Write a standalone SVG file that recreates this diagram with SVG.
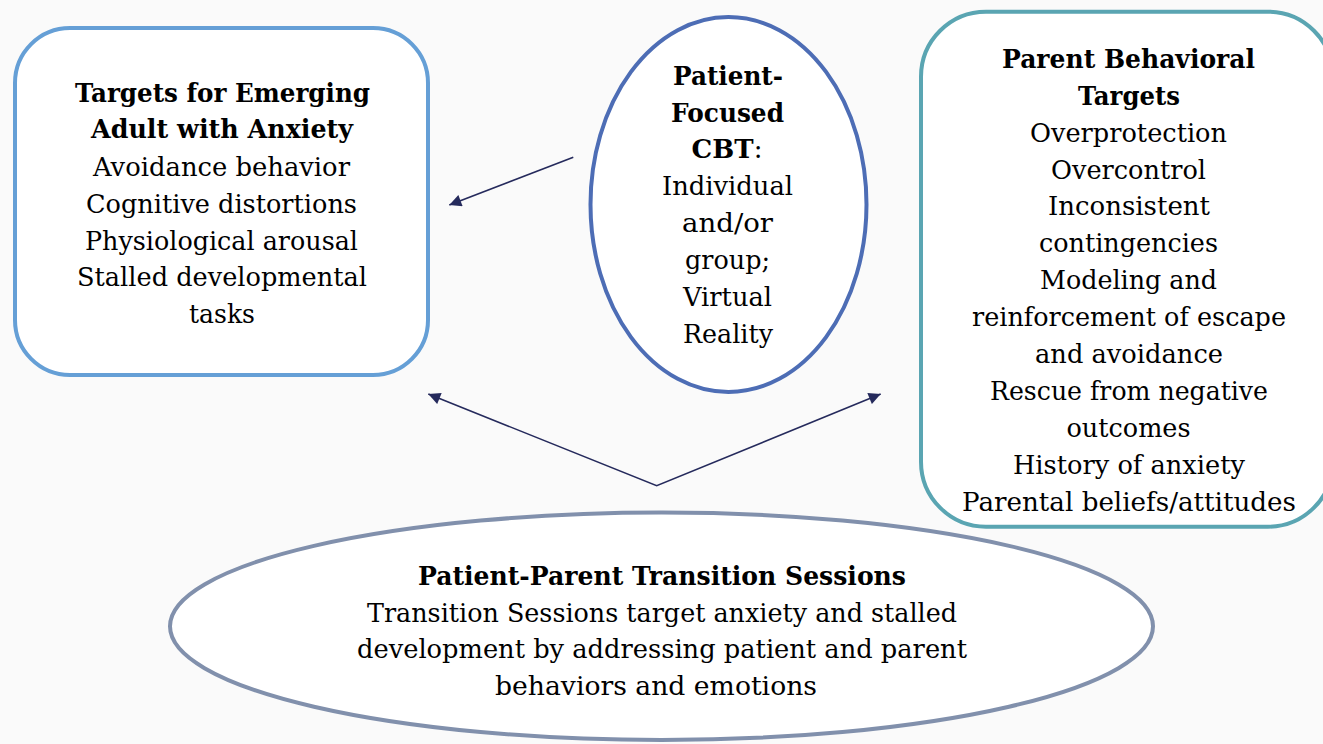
<svg xmlns="http://www.w3.org/2000/svg" width="1323" height="744" viewBox="0 0 1323 744">
<defs>
<style>
text{font-family:"DejaVu Serif","Liberation Serif",serif;font-size:26px;fill:#000;text-anchor:middle}
.b{font-weight:bold}
.conn{fill:none;stroke:#252a5c;stroke-width:1.6}
</style>
<marker id="ah" viewBox="0 0 10 10" refX="10" refY="5" markerWidth="14" markerHeight="12" markerUnits="userSpaceOnUse" orient="auto-start-reverse">
<path d="M0,0 L10,5 L0,10 Z" fill="#252a5c"/>
</marker>
</defs>
<rect x="0" y="0" width="1323" height="744" fill="#fafafa"/>
<g id="connectors">
<path class="conn" d="M573.3,157.3 L449.3,205" marker-end="url(#ah)"/>
<path class="conn" d="M428.3,394 L656.7,485.7 L880.7,394" marker-start="url(#ah)" marker-end="url(#ah)"/>
</g>
<g id="emerging-adult">
<rect x="15" y="28" width="413" height="347" rx="55" ry="55" fill="#fff" stroke="#659fd6" stroke-width="4"/>
<text class="b" x="222.5" y="101.5" textLength="295" lengthAdjust="spacingAndGlyphs">Targets for Emerging</text>
<text class="b" x="222" y="138" textLength="262" lengthAdjust="spacingAndGlyphs">Adult with Anxiety</text>
<text x="221.5" y="175.5" textLength="257" lengthAdjust="spacingAndGlyphs">Avoidance behavior</text>
<text x="221.5" y="212.5" textLength="271" lengthAdjust="spacingAndGlyphs">Cognitive distortions</text>
<text x="221.5" y="249.5" textLength="273" lengthAdjust="spacingAndGlyphs">Physiological arousal</text>
<text x="222" y="286" textLength="290" lengthAdjust="spacingAndGlyphs">Stalled developmental</text>
<text x="222" y="323" textLength="66" lengthAdjust="spacingAndGlyphs">tasks</text>
</g>
<g id="patient-cbt">
<ellipse cx="728.5" cy="204.5" rx="138" ry="187.5" fill="#fff" stroke="#4d6db5" stroke-width="4"/>
<text class="b" x="728" y="85" textLength="110" lengthAdjust="spacingAndGlyphs">Patient-</text>
<text class="b" x="727.5" y="121.7" textLength="113" lengthAdjust="spacingAndGlyphs">Focused</text>
<text x="727" y="158"><tspan class="b">CBT</tspan>:</text>
<text x="727.5" y="195" textLength="131" lengthAdjust="spacingAndGlyphs">Individual</text>
<text x="727.5" y="232" textLength="91" lengthAdjust="spacingAndGlyphs">and/or</text>
<text x="727.5" y="268.5" textLength="85" lengthAdjust="spacingAndGlyphs">group;</text>
<text x="727.5" y="306" textLength="89" lengthAdjust="spacingAndGlyphs">Virtual</text>
<text x="728" y="343" textLength="90" lengthAdjust="spacingAndGlyphs">Reality</text>
</g>
<g id="parent-targets">
<rect x="921" y="11.7" width="412" height="515" rx="65" ry="65" fill="#fff" stroke="#5aa5b2" stroke-width="4"/>
<text class="b" x="1128.5" y="68.3" textLength="253" lengthAdjust="spacingAndGlyphs">Parent Behavioral</text>
<text class="b" x="1129" y="105" textLength="102" lengthAdjust="spacingAndGlyphs">Targets</text>
<text x="1128.5" y="141.7" textLength="197" lengthAdjust="spacingAndGlyphs">Overprotection</text>
<text x="1128.5" y="178.5" textLength="155" lengthAdjust="spacingAndGlyphs">Overcontrol</text>
<text x="1129" y="215" textLength="162" lengthAdjust="spacingAndGlyphs">Inconsistent</text>
<text x="1128.5" y="252" textLength="179" lengthAdjust="spacingAndGlyphs">contingencies</text>
<text x="1128.5" y="289" textLength="177" lengthAdjust="spacingAndGlyphs">Modeling and</text>
<text x="1129" y="326" textLength="314" lengthAdjust="spacingAndGlyphs">reinforcement of escape</text>
<text x="1129" y="363" textLength="188" lengthAdjust="spacingAndGlyphs">and avoidance</text>
<text x="1129" y="400" textLength="278" lengthAdjust="spacingAndGlyphs">Rescue from negative</text>
<text x="1128.5" y="437" textLength="124" lengthAdjust="spacingAndGlyphs">outcomes</text>
<text x="1129" y="474" textLength="232" lengthAdjust="spacingAndGlyphs">History of anxiety</text>
<text x="1129" y="511" textLength="334" lengthAdjust="spacingAndGlyphs">Parental beliefs/attitudes</text>
</g>
<g id="transition-sessions">
<ellipse cx="661.5" cy="626.3" rx="491.5" ry="113.7" fill="#fff" stroke="#8190ac" stroke-width="4"/>
<text class="b" x="662" y="585" textLength="488" lengthAdjust="spacingAndGlyphs">Patient-Parent Transition Sessions</text>
<text x="662" y="621.7" textLength="590" lengthAdjust="spacingAndGlyphs">Transition Sessions target anxiety and stalled</text>
<text x="662" y="658.3" textLength="610" lengthAdjust="spacingAndGlyphs">development by addressing patient and parent</text>
<text x="656" y="695" textLength="322" lengthAdjust="spacingAndGlyphs">behaviors and emotions</text>
</g>
</svg>
